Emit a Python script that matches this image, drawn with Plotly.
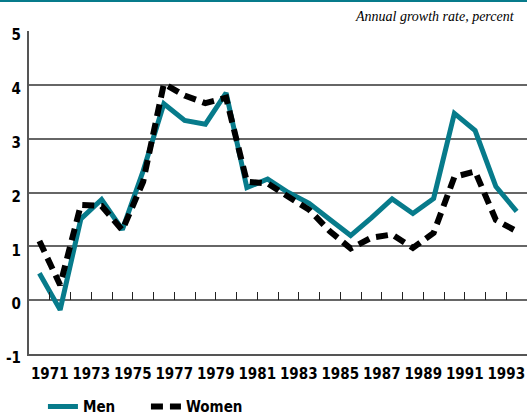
import plotly.graph_objects as go

# Data (annual growth rate, percent); points plotted mid-year
years = list(range(1970, 1994))
men = [0.50, -0.18, 1.51, 1.87, 1.31, 2.40, 3.65, 3.34, 3.27, 3.85, 2.09, 2.25,
       2.00, 1.80, 1.50, 1.20, 1.53, 1.88, 1.61, 1.89, 3.47, 3.15, 2.11, 1.65]
women = [1.10, 0.28, 1.77, 1.75, 1.30, 2.20, 4.02, 3.80, 3.66, 3.76, 2.20, 2.17,
         1.92, 1.68, 1.28, 0.96, 1.16, 1.22, 0.97, 1.25, 2.29, 2.39, 1.49, 1.28]
tick_years = list(range(1971, 1994))
label_years = list(range(1971, 1994, 2))
y_ticks = [-1, 0, 1, 2, 3, 4, 5]
y_labels = ["-1", "0", "1", "2", "3", "4", "5"]

TEAL = "#077b8b"
FONT = "Liberation Sans Narrow, DejaVu Sans Condensed, sans-serif"

xs = [y + 0.5 for y in years]

fig = go.Figure()
fig.add_trace(go.Scatter(x=xs, y=men, mode="lines", name="Men",
                         line=dict(color=TEAL, width=5)))
fig.add_trace(go.Scatter(x=xs, y=women, mode="lines", name="Women",
                         line=dict(color="black", width=6, dash="12px,7px")))
# invisible helper trace for the tick axis on the zero line
fig.add_trace(go.Scatter(x=[tick_years[0]], y=[0], xaxis="x2", mode="markers",
                         marker=dict(opacity=0), showlegend=False, hoverinfo="skip"))

fig.update_layout(
    width=527, height=417,
    margin=dict(l=29, r=0, t=31, b=63, autoexpand=False),
    paper_bgcolor="white", plot_bgcolor="white",
    xaxis=dict(range=[1970, 1994], tickvals=label_years,
               ticktext=[str(y) for y in label_years], automargin=False,
               showgrid=False, zeroline=False, showline=True,
               linecolor="#555555", linewidth=2, ticks="",
               ticklabelstandoff=5,
               tickfont=dict(family=FONT, size=15, color="black", weight="bold")),
    xaxis2=dict(range=[1970, 1994], overlaying="x", anchor="free", position=1/6,
                tickvals=tick_years, ticks="inside", ticklen=8, tickwidth=1,
                tickcolor="#222222", showticklabels=False, showgrid=False,
                zeroline=False, showline=False, automargin=False),
    yaxis=dict(range=[-1, 5], tickvals=y_ticks, ticktext=y_labels, automargin=False,
               showgrid=True, gridcolor="#666666", gridwidth=1.5, zeroline=False,
               showline=True, linecolor="#555555", linewidth=2, ticks="",
               ticklabelstandoff=3, ticklabelshift=4,
               tickfont=dict(family=FONT, size=15, color="black", weight="bold")),
    legend=dict(orientation="h", x=0.028, y=-0.112, xanchor="left", yanchor="top",
                font=dict(family=FONT, size=15, color="black", weight="bold"),
                entrywidth=58, entrywidthmode="pixels"),
    shapes=[dict(type="line", xref="paper", yref="paper", x0=-0.06, x1=1.0,
                 y0=1.093, y1=1.093, line=dict(color=TEAL, width=2))],
    annotations=[dict(text="Annual growth rate, percent", xref="paper", yref="paper",
                      x=0.98, y=1.045, xanchor="right", yanchor="middle",
                      showarrow=False,
                      font=dict(family="Liberation Serif, serif", size=14,
                                color="black", style="italic"))],
)

fig.write_html("out.html", config={"displayModeBar": False},
               post_script="document.body.style.margin='0';document.body.style.overflow='hidden';")
